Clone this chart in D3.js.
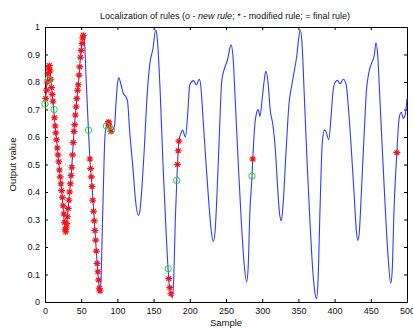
<!DOCTYPE html>
<html>
<head>
<meta charset="utf-8">
<script src="https://cdn.jsdelivr.net/npm/d3@7"></script>
<style>
  body { margin: 0; background: #fff; }
  svg { display: block; font-family: "Liberation Sans", Arial, sans-serif; }
  .axis text { font-size: 9px; fill: #111; }
  .axis path, .axis line { stroke: #000; }
</style>
</head>
<body>
<div id="chart"></div>
<script>
// blue output curve (sample, value)
const sampleX = [0, 3, 6, 9, 12, 14, 16, 20, 24, 28, 29, 31, 34, 37, 40, 43, 46, 49, 52, 53, 54, 57, 60, 62, 65, 69, 72, 75, 76, 77, 80, 83, 86, 88, 91, 93, 96, 98, 100, 102, 105, 108, 112, 114, 117, 122, 125, 129, 131, 134, 137, 141, 145, 149, 153, 155, 159, 163, 167, 170, 172, 174, 176, 178, 180, 182, 185, 188, 190, 194, 197, 200, 205, 209, 213, 215, 218, 222, 226, 230, 232.5, 235, 238, 241, 244, 248, 252, 257, 260, 263, 267, 271, 275, 278.5, 280.5, 283, 286, 287, 290, 292, 294.5, 297, 300, 303, 305, 308, 311, 315, 318, 321, 324, 326.5, 329, 333, 337, 341, 345, 348, 350, 352.5, 355, 358, 362, 366, 370, 373, 375, 377, 380, 383, 386, 388, 392, 395, 398, 401, 404, 407.5, 412, 416, 419, 423, 427, 430, 432, 434, 437, 441, 444, 447, 451, 455, 457, 459.5, 462, 466, 470, 474, 477.5, 479.5, 482, 486, 489, 492, 495, 497.5, 500];
const outputY = [0.72, 0.80, 0.86, 0.78, 0.70, 0.64, 0.59, 0.48, 0.38, 0.26, 0.26, 0.31, 0.40, 0.49, 0.62, 0.71, 0.79, 0.89, 0.96, 0.97, 0.965, 0.80, 0.625, 0.52, 0.42, 0.26, 0.14, 0.05, 0.035, 0.06, 0.35, 0.61, 0.65, 0.655, 0.62, 0.625, 0.64, 0.72, 0.79, 0.815, 0.79, 0.76, 0.745, 0.73, 0.62, 0.47, 0.37, 0.315, 0.33, 0.42, 0.55, 0.75, 0.87, 0.92, 0.99, 0.96, 0.77, 0.50, 0.27, 0.12, 0.052, 0.03, 0.015, 0.10, 0.30, 0.44, 0.585, 0.615, 0.625, 0.60, 0.68, 0.79, 0.805, 0.79, 0.81, 0.79, 0.68, 0.52, 0.37, 0.25, 0.22, 0.26, 0.42, 0.62, 0.80, 0.85, 0.88, 0.935, 0.88, 0.72, 0.50, 0.30, 0.14, 0.073, 0.12, 0.33, 0.46, 0.52, 0.65, 0.685, 0.70, 0.675, 0.74, 0.81, 0.84, 0.80, 0.70, 0.64, 0.56, 0.43, 0.32, 0.295, 0.36, 0.55, 0.72, 0.79, 0.85, 0.90, 0.95, 0.99, 0.94, 0.76, 0.51, 0.29, 0.11, 0.03, 0.012, 0.07, 0.35, 0.58, 0.625, 0.62, 0.59, 0.67, 0.77, 0.80, 0.806, 0.794, 0.81, 0.79, 0.71, 0.56, 0.39, 0.26, 0.224, 0.25, 0.40, 0.62, 0.77, 0.83, 0.868, 0.90, 0.943, 0.90, 0.77, 0.55, 0.34, 0.16, 0.068, 0.11, 0.33, 0.543, 0.665, 0.69, 0.668, 0.68, 0.74];

// '*' modified rule
const starSamples = [1, 2, 3, 4, 5, 6, 7, 8, 9, 10, 11, 13, 14, 15, 16, 17, 18, 19, 20, 21, 22, 23, 24, 25, 26, 27, 28, 28.6, 29.3, 30, 31, 32, 33, 34, 35, 36, 37, 38, 39, 40, 41, 42, 43, 44, 45, 46, 47, 48, 49, 50, 51, 52, 53, 62, 63, 64, 65, 66, 67, 68, 69, 70, 71, 72, 73, 74, 75, 76, 87, 88, 89, 91, 171, 172.5, 174, 183, 184, 185, 287, 486];
const starValues = [0.74, 0.77, 0.80, 0.83, 0.85, 0.86, 0.84, 0.81, 0.78, 0.755, 0.73, 0.67, 0.64, 0.615, 0.59, 0.56, 0.535, 0.51, 0.48, 0.455, 0.43, 0.405, 0.38, 0.35, 0.32, 0.29, 0.265, 0.255, 0.27, 0.285, 0.31, 0.34, 0.37, 0.40, 0.43, 0.46, 0.49, 0.535, 0.58, 0.62, 0.645, 0.68, 0.71, 0.74, 0.77, 0.79, 0.825, 0.855, 0.89, 0.915, 0.94, 0.96, 0.97, 0.52, 0.485, 0.455, 0.42, 0.37, 0.33, 0.295, 0.26, 0.225, 0.185, 0.14, 0.11, 0.08, 0.05, 0.04, 0.65, 0.655, 0.64, 0.62, 0.085, 0.052, 0.03, 0.50, 0.55, 0.585, 0.52, 0.543];

// 'o' new rule
const newRuleSamples = [0, 4.6, 12.5, 60, 85, 92, 170.3, 181.9, 285.9];
const newRuleValues = [0.72, 0.81, 0.70, 0.625, 0.64, 0.625, 0.121, 0.442, 0.458];

const xTickValues = [0, 50, 100, 150, 200, 250, 300, 350, 400, 450, 500];
const yTickValues = [0, 0.1, 0.2, 0.3, 0.4, 0.5, 0.6, 0.7, 0.8, 0.9, 1];
const yTickLabels = ['0', '0.1', '0.2', '0.3', '0.4', '0.5', '0.6', '0.7', '0.8', '0.9', '1'];

const W = 413, H = 328;
const plotLeft = 45, plotRight = 407, plotTop = 27, plotBottom = 302;

const svg = d3.select('#chart').append('svg')
  .attr('width', W)
  .attr('height', H);

const x = d3.scaleLinear().domain([0, 500]).range([plotLeft, plotRight]);
const y = d3.scaleLinear().domain([0, 1]).range([plotBottom, plotTop]);

// title
svg.append('text')
  .attr('x', (plotLeft + plotRight) / 2 - 1)
  .attr('y', 19)
  .attr('text-anchor', 'middle')
  .style('font-size', '9px')
  .style('fill', '#111')
  .call(t => {
    t.append('tspan').text('Localization of rules (o - ');
    t.append('tspan').style('font-style', 'italic').text('new rule');
    t.append('tspan').text('; * - modified rule; = final rule)');
  });

// axes, ticks point inward on all four sides
svg.append('g').attr('class', 'axis')
  .attr('transform', 'translate(0,' + plotBottom + ')')
  .call(d3.axisBottom(x).tickValues(xTickValues).tickSizeInner(-3).tickSizeOuter(0).tickPadding(6));
svg.append('g').attr('class', 'axis')
  .attr('transform', 'translate(0,' + plotTop + ')')
  .call(d3.axisTop(x).tickValues(xTickValues).tickSizeInner(-3).tickSizeOuter(0).tickFormat(''));
svg.append('g').attr('class', 'axis')
  .attr('transform', 'translate(' + plotLeft + ',0)')
  .call(d3.axisLeft(y).tickValues(yTickValues).tickSizeInner(-3).tickSizeOuter(0).tickPadding(5)
    .tickFormat((d, i) => yTickLabels[i]));
svg.append('g').attr('class', 'axis')
  .attr('transform', 'translate(' + plotRight + ',0)')
  .call(d3.axisRight(y).tickValues(yTickValues).tickSizeInner(-3).tickSizeOuter(0).tickFormat(''));

svg.selectAll('.axis .domain').attr('stroke', '#000');

// axis labels
svg.append('text')
  .attr('x', (plotLeft + plotRight) / 2)
  .attr('y', 326)
  .attr('text-anchor', 'middle')
  .style('font-size', '9.5px')
  .style('fill', '#111')
  .text('Sample');
svg.append('text')
  .attr('transform', 'translate(16,' + ((plotTop + plotBottom) / 2) + ') rotate(-90)')
  .attr('text-anchor', 'middle')
  .style('font-size', '9.5px')
  .style('fill', '#111')
  .text('Output value');

// output line
const line = d3.line()
  .x(d => x(d[0]))
  .y(d => y(d[1]))
  .curve(d3.curveMonotoneX);

svg.append('path')
  .datum(sampleX.map((s, i) => [s, outputY[i]]))
  .attr('d', line)
  .attr('fill', 'none')
  .attr('stroke', '#2b3dff')
  .attr('stroke-width', 1.1);

// '*' marker: plus and cross
const starPath = 'M-3.5,0L3.5,0M0,-3L0,3M-2.4,-2.2L2.4,2.2M-2.4,2.2L2.4,-2.2';
svg.append('g').selectAll('path')
  .data(starSamples.map((s, i) => [s, starValues[i]]))
  .enter()
    .append('path')
    .attr('d', starPath)
    .attr('transform', d => 'translate(' + x(d[0]) + ',' + y(d[1]) + ')')
    .attr('fill', 'none')
    .attr('stroke', '#ff1010')
    .attr('stroke-width', 1.2);

// 'o' marker
svg.append('g').selectAll('circle')
  .data(newRuleSamples.map((s, i) => [s, newRuleValues[i]]))
  .enter()
    .append('circle')
    .attr('cx', d => x(d[0]))
    .attr('cy', d => y(d[1]))
    .attr('r', 3.2)
    .attr('fill', 'none')
    .attr('stroke', '#22dd22')
    .attr('stroke-width', 1);
</script>
</body>
</html>
